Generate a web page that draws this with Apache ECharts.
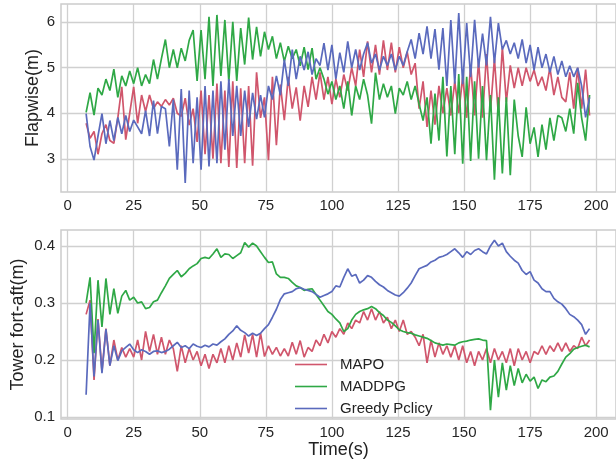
<!DOCTYPE html>
<html>
<head>
<meta charset="utf-8">
<script src="https://cdn.jsdelivr.net/npm/echarts@6/dist/echarts.min.js"></script>
<style>
  html, body { margin: 0; padding: 0; background: #fff; }
  #main { width: 616px; height: 460px; }
</style>
</head>
<body>
<div id="main"></div>
<script>
// sample times (s), shared by both panels
var timeS = [
  7, 8.5, 10, 11.5, 13, 14.5, 16, 17.5, 19, 20.5,
  22, 23.5, 25, 26.5, 28, 29.5, 31, 32.5, 34, 35.5,
  37, 38.5, 40, 41.5, 43, 44.5, 46, 47.5, 49, 50.5,
  52, 53.5, 55, 56.5, 58, 59.5, 61, 62.5, 64, 65.5,
  67, 68.5, 70, 71.5, 73, 74.5, 76, 77.5, 79, 80.5,
  82, 83.5, 85, 86.5, 88, 89.5, 91, 92.5, 94, 95.5,
  97, 98.5, 100, 101.5, 103, 104.5, 106, 107.5, 109, 110.5,
  112, 113.5, 115, 116.5, 118, 119.5, 121, 122.5, 124, 125.5,
  127, 128.5, 130, 131.5, 133, 134.5, 136, 137.5, 139, 140.5,
  142, 143.5, 145, 146.5, 148, 149.5, 151, 152.5, 154, 155.5,
  157, 158.5, 160, 161.5, 163, 164.5, 166, 167.5, 169, 170.5,
  172, 173.5, 175, 176.5, 178, 179.5, 181, 182.5, 184, 185.5,
  187, 188.5, 190, 191.5, 193, 194.5, 196, 197.5
];

var seriesNames = ["MAPO", "MADDPG", "Greedy Pclicy"];

// Flapwise (m)
var flapMapo = [
  3.78, 3.45, 3.6, 3.1, 3.55, 3.75, 3.4, 3.34, 3.9, 4.58,
  3.42, 4.0, 4.58, 3.78, 4.4, 4.04, 4.4, 4.1, 4.25, 4.15,
  4.3, 4.18, 4.33, 4.0, 3.93, 4.33, 3.74, 4.1, 3.37, 4.5,
  3.1, 4.4, 3.0, 4.65, 2.9, 4.5, 2.82, 4.7, 2.8, 4.55,
  2.9, 4.6, 2.85, 4.9, 3.9, 4.35, 2.97, 4.8, 3.3, 4.63,
  3.85, 4.8, 4.1, 4.57, 3.84, 4.6, 4.14, 4.8, 4.3, 4.9,
  4.3, 4.8, 4.2, 4.75, 4.35, 4.85, 4.5, 5.0, 4.6, 5.4,
  4.8, 5.58, 4.9, 5.5, 4.85, 5.6, 4.95, 5.55, 4.9, 5.45,
  5.0, 5.35, 4.85, 5.1, 4.1, 4.7, 3.7, 4.5, 3.75, 4.6,
  4.0, 4.55, 3.95, 4.7, 4.0, 4.8, 3.9, 5.05, 3.95, 5.15,
  3.9, 5.3, 4.05, 5.2, 3.95, 5.45, 4.25, 5.05, 4.55, 5.0,
  4.6, 5.0, 4.7, 4.95, 4.6, 4.8, 4.5, 5.0, 4.4, 4.8,
  4.35, 4.25, 4.9, 4.1, 5.0, 4.1, 4.96, 3.95
];
var flapMaddpg = [
  4.02, 4.45, 3.96, 4.55, 4.4, 4.75, 4.5, 4.97, 4.35, 4.82,
  4.6, 4.93, 4.65, 5.0, 4.6, 4.85, 4.65, 5.18, 4.75, 5.2,
  5.62, 5.0, 5.4, 5.0, 5.43, 5.15, 5.6, 5.83, 4.71, 5.83,
  4.75, 6.12, 4.6, 6.16, 4.82, 6.05, 4.7, 6.01, 4.71, 5.87,
  5.07, 6.1, 5.18, 5.9, 5.25, 5.79, 5.4, 5.69, 5.2, 5.55,
  5.14, 5.47, 5.2, 5.4, 5.04, 5.45, 4.96, 5.43, 4.75, 5.0,
  4.75, 4.42, 4.7, 4.3, 4.6, 4.1, 4.7, 3.95, 4.6, 4.3,
  4.75, 4.4, 3.77, 4.89, 4.3, 4.65, 4.35, 4.6, 3.99, 4.55,
  4.4, 4.7, 4.3, 4.6, 4.2, 3.84, 4.35, 3.33, 4.43, 3.4,
  4.8, 3.05, 4.6, 3.1, 4.86, 2.89, 4.8, 2.95, 4.7, 3.0,
  4.6, 2.97, 4.4, 2.54, 4.35, 2.68, 4.35, 2.64, 4.3, 3.5,
  3.04, 4.13, 3.33, 3.69, 3.04, 3.75, 3.2, 3.9, 3.4, 3.95,
  3.9, 3.6, 4.1, 3.55, 4.67, 3.9, 3.4, 4.4
];
var flapGreedy = [
  3.99, 3.27, 2.97, 3.5, 3.99, 3.33, 3.84, 3.4, 3.91, 3.55,
  3.95, 3.6, 3.85, 3.7, 3.55, 4.06, 3.5, 4.28, 3.55, 4.15,
  4.1, 3.27, 4.3, 2.76, 4.53, 2.47, 4.5, 2.9, 4.35, 2.76,
  4.6, 2.83, 4.5, 2.9, 4.7, 3.2, 4.75, 3.5, 4.6, 3.5,
  4.5, 3.7, 4.45, 3.87, 4.4, 3.91, 4.6, 4.3, 4.82, 4.4,
  5.18, 4.6, 5.4, 4.75, 5.25, 4.95, 5.35, 4.85, 5.2, 5.05,
  5.54, 4.95, 5.5, 4.75, 5.33, 4.9, 5.58, 5.0, 5.4, 4.95,
  5.3, 5.55, 5.1, 5.3, 4.95, 5.25, 5.05, 5.3, 4.95, 5.25,
  5.05, 5.35, 5.62, 5.2, 5.76, 5.3, 5.91, 5.2, 5.85, 4.96,
  5.87, 4.6, 6.05, 4.65, 6.2, 4.64, 5.98, 4.8, 6.05, 5.0,
  5.75, 5.05, 6.12, 5.1, 5.98, 5.4, 5.6, 5.3, 5.55, 5.2,
  5.62, 5.1, 5.5, 4.95, 5.45, 5.0, 5.3, 4.9, 5.25, 4.85,
  5.15, 4.8, 5.04, 4.8, 5.0, 4.6, 3.91, 4.35
];

// Tower fore-aft (m)
var towerMapo = [
  0.28, 0.305, 0.165, 0.272, 0.18, 0.255, 0.19, 0.235, 0.2, 0.222,
  0.205, 0.22, 0.205, 0.235, 0.2, 0.25, 0.215, 0.245, 0.21, 0.24,
  0.21, 0.235, 0.22, 0.18, 0.225, 0.195, 0.22, 0.2, 0.215, 0.19,
  0.21, 0.185, 0.21, 0.195, 0.22, 0.195, 0.225, 0.2, 0.23, 0.205,
  0.244, 0.212, 0.245, 0.205, 0.247, 0.206, 0.225, 0.21, 0.222, 0.207,
  0.22, 0.207, 0.231, 0.21, 0.234, 0.205, 0.222, 0.215, 0.235, 0.225,
  0.245, 0.23, 0.25, 0.24, 0.255, 0.245, 0.265, 0.255, 0.27, 0.265,
  0.285, 0.27, 0.29, 0.27, 0.285, 0.265, 0.275, 0.255, 0.27, 0.25,
  0.27, 0.245, 0.25, 0.24, 0.225, 0.245, 0.195, 0.235, 0.205, 0.23,
  0.21, 0.225, 0.205, 0.225, 0.2, 0.225, 0.195, 0.215, 0.19, 0.215,
  0.2, 0.22, 0.195, 0.22, 0.2, 0.215, 0.195, 0.22, 0.19, 0.22,
  0.2, 0.215, 0.195, 0.215, 0.21, 0.225, 0.21, 0.225, 0.215, 0.23,
  0.215, 0.23, 0.215, 0.225, 0.22, 0.24, 0.225, 0.235
];
var towerMaddpg = [
  0.3, 0.345, 0.212, 0.34, 0.258, 0.343, 0.28, 0.325, 0.282, 0.312,
  0.322, 0.305, 0.31, 0.3, 0.302, 0.29, 0.292, 0.302, 0.305, 0.318,
  0.33, 0.343, 0.35, 0.357, 0.346, 0.352, 0.36, 0.365, 0.369, 0.378,
  0.38, 0.378, 0.386, 0.395, 0.38, 0.386, 0.385, 0.378, 0.383, 0.388,
  0.406, 0.398, 0.405, 0.4, 0.39, 0.38, 0.371, 0.372, 0.351, 0.345,
  0.345, 0.343, 0.336, 0.33, 0.327, 0.322, 0.324, 0.325, 0.315, 0.305,
  0.295, 0.285, 0.28, 0.272, 0.265, 0.25, 0.255, 0.27, 0.28, 0.285,
  0.288, 0.29, 0.294, 0.29, 0.283, 0.278, 0.27, 0.266, 0.26, 0.253,
  0.25, 0.248, 0.247, 0.244, 0.242, 0.24, 0.238, 0.234, 0.23, 0.228,
  0.226, 0.228, 0.227, 0.226, 0.23, 0.232, 0.233, 0.235, 0.236, 0.237,
  0.235, 0.234, 0.112, 0.2, 0.135, 0.195, 0.147, 0.19, 0.155, 0.185,
  0.16, 0.175, 0.163, 0.17, 0.15, 0.165, 0.162, 0.17, 0.172, 0.18,
  0.193, 0.205, 0.211, 0.219, 0.222, 0.224, 0.226, 0.223
];
var towerGreedy = [
  0.139, 0.3, 0.171, 0.27, 0.177, 0.254, 0.19, 0.225, 0.199, 0.216,
  0.222, 0.228, 0.218, 0.213, 0.218, 0.215, 0.21, 0.215, 0.216, 0.213,
  0.215, 0.219, 0.225, 0.231, 0.222, 0.225, 0.22, 0.228, 0.224, 0.222,
  0.226, 0.223, 0.228, 0.226, 0.232, 0.237, 0.245, 0.251, 0.26, 0.252,
  0.248, 0.242, 0.247, 0.243, 0.247, 0.255, 0.262, 0.275, 0.289, 0.306,
  0.316, 0.318, 0.32, 0.325, 0.327, 0.324, 0.322, 0.32, 0.315, 0.31,
  0.313, 0.316, 0.32, 0.33, 0.328, 0.345, 0.36, 0.347, 0.35, 0.335,
  0.34, 0.348, 0.345, 0.338, 0.332, 0.328, 0.322, 0.318, 0.314, 0.312,
  0.318, 0.326, 0.335, 0.348, 0.36, 0.363, 0.366, 0.372, 0.375, 0.38,
  0.382, 0.385, 0.39, 0.395, 0.388, 0.38, 0.39, 0.385, 0.392, 0.395,
  0.39, 0.386, 0.4, 0.41, 0.4, 0.405, 0.39, 0.382, 0.375, 0.37,
  0.357, 0.35, 0.355, 0.34, 0.335, 0.325, 0.32, 0.32, 0.308, 0.302,
  0.298, 0.29, 0.28, 0.276, 0.27, 0.262, 0.245, 0.255
];

// tick labels
var timeTicks = [0, 25, 50, 75, 100, 125, 150, 175, 200];
var flapTicks = [3, 4, 5, 6];
var towerTicks = [0.1, 0.2, 0.3, 0.4];

var colors = ["#d0566c", "#2fa846", "#5a6abd"];
var fontFam = "Liberation Sans, Arial, sans-serif";

function pairs(vals) {
  return timeS.map(function(t, i) { return [t, vals[i]]; });
}

function xAxisCfg(gridIndex, withName) {
  return {
    type: "value", gridIndex: gridIndex, min: -2.5, max: 207.5,
    name: withName ? "Time(s)" : "", nameLocation: "middle", nameGap: 22,
    nameMoveOverlap: false,
    nameTextStyle: { fontSize: 18, color: "#222", fontFamily: fontFam },
    axisLine: { show: false },
    axisTick: { show: false, customValues: timeTicks },
    axisLabel: { customValues: timeTicks, margin: 6, fontSize: 15, color: "#262626", fontFamily: fontFam },
    splitLine: { show: true, lineStyle: { color: "#d0d0d0", width: 1.3 } }
  };
}

function yAxisCfg(gridIndex, name, min, max, ticks, gap) {
  return {
    type: "value", gridIndex: gridIndex, min: min, max: max,
    name: name, nameLocation: "middle", nameGap: gap,
    nameMoveOverlap: false,
    nameTextStyle: { fontSize: 18, color: "#222", fontFamily: fontFam },
    axisLine: { show: false },
    axisTick: { show: false, customValues: ticks },
    axisLabel: { customValues: ticks, margin: 6, fontSize: 15, color: "#262626", fontFamily: fontFam },
    splitLine: { show: true, lineStyle: { color: "#d0d0d0", width: 1.3 } }
  };
}

function line(name, vals, idx, axisIdx) {
  return {
    name: name, type: "line", xAxisIndex: axisIdx, yAxisIndex: axisIdx,
    data: pairs(vals), showSymbol: false, symbol: "none", animation: false,
    lineStyle: { color: colors[idx], width: 1.7 },
    itemStyle: { color: colors[idx] }
  };
}

var myChart = echarts.init(document.getElementById("main"));
var option = {
  backgroundColor: "#ffffff",
  animation: false,
  grid: [
    { left: 61, top: 4, width: 556, height: 188, show: true, borderColor: "#cccccc", borderWidth: 1.5 },
    { left: 61, top: 230, width: 556, height: 189, show: true, borderColor: "#cccccc", borderWidth: 1.5 }
  ],
  xAxis: [xAxisCfg(0, false), xAxisCfg(1, true)],
  yAxis: [
    yAxisCfg(0, "Flapwise(m)", 2.27, 6.4, flapTicks, 19),
    yAxisCfg(1, "Tower fort-aft(m)", 0.0965, 0.428, towerTicks, 34)
  ],
  legend: {
    orient: "vertical", left: 290, top: 352,
    icon: "rect", itemWidth: 32, itemHeight: 1.6, itemGap: 7,
    data: seriesNames,
    textStyle: { fontSize: 15, lineHeight: 15, color: "#222", fontFamily: fontFam, padding: [0, 0, 0, 8] }
  },
  series: [
    line(seriesNames[0], flapMapo, 0, 0),
    line(seriesNames[1], flapMaddpg, 1, 0),
    line(seriesNames[2], flapGreedy, 2, 0),
    line(seriesNames[0], towerMapo, 0, 1),
    line(seriesNames[1], towerMaddpg, 1, 1),
    line(seriesNames[2], towerGreedy, 2, 1)
  ]
};
myChart.setOption(option);
</script>
</body>
</html>
